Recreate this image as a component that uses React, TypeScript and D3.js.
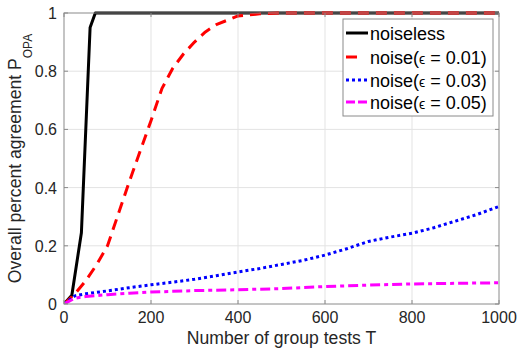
import { useEffect, useRef } from "react";
import * as d3 from "d3";

const xTicks = [0, 200, 400, 600, 800, 1000];
const yTicks = [0, 0.2, 0.4, 0.6, 0.8, 1];

const noiselessT = [0, 18, 40, 60, 72, 1000];
const noiselessP = [0, 0.03, 0.245, 0.95, 1, 1];

const noise01T = [0, 25, 50, 75, 100, 125, 150, 175, 200, 225, 250, 275, 300, 325, 350, 375, 400, 450, 500, 1000];
const noise01P = [0, 0.035, 0.08, 0.135, 0.2, 0.31, 0.42, 0.525, 0.63, 0.74, 0.81, 0.86, 0.9, 0.935, 0.96, 0.975, 0.99, 0.997, 1, 1];

const noise03T = [0, 25, 50, 100, 150, 200, 250, 300, 350, 400, 450, 500, 550, 600, 650, 700, 750, 800, 850, 900, 950, 1000];
const noise03P = [0, 0.028, 0.035, 0.045, 0.056, 0.066, 0.075, 0.085, 0.097, 0.11, 0.122, 0.136, 0.15, 0.168, 0.19, 0.215, 0.23, 0.243, 0.262, 0.285, 0.308, 0.335];

const noise05T = [0, 25, 50, 100, 150, 200, 300, 400, 500, 600, 700, 800, 900, 1000];
const noise05P = [0, 0.02, 0.026, 0.032, 0.037, 0.041, 0.046, 0.049, 0.053, 0.06, 0.065, 0.069, 0.071, 0.073];

const seriesNames = ["noiseless", "0.01", "0.03", "0.05"];
const seriesColors = ["#000000", "#ff0000", "#0000ff", "#ff00ff"];
const seriesDash = ["", "11,7", "3,3", "10,4,4,4"];

const FONT = "'Liberation Sans', Arial, Helvetica, sans-serif";

export default function App() {
  const ref = useRef<SVGSVGElement>(null);

  useEffect(() => {
    const svg = d3.select(ref.current);
    svg.selectAll("*").remove();
    const width = 519;
    const height = 348;
    svg.attr("width", width).attr("height", height);

    const m = { left: 64, right: 20, top: 13, bottom: 44 };
    const x = d3.scaleLinear().domain([0, 1000]).range([m.left, width - m.right]);
    const y = d3.scaleLinear().domain([0, 1]).range([height - m.bottom, m.top]);

    svg.append("rect").attr("width", width).attr("height", height).attr("fill", "#fff");

    // grid
    const grid = svg.append("g").attr("stroke", "#e3e3e3").attr("stroke-width", 1);
    xTicks.slice(1, -1).forEach((t) => {
      grid.append("line").attr("x1", x(t)).attr("x2", x(t)).attr("y1", y(0)).attr("y2", y(1));
    });
    yTicks.slice(1, -1).forEach((t) => {
      grid.append("line").attr("x1", x(0)).attr("x2", x(1000)).attr("y1", y(t)).attr("y2", y(t));
    });

    svg.append("defs").append("clipPath").attr("id", "plotclip")
      .append("rect").attr("x", x(0)).attr("y", y(1) - 3).attr("width", x(1000) - x(0)).attr("height", y(0) - y(1) + 3);

    const series = [
      { t: noiselessT, p: noiselessP },
      { t: noise01T, p: noise01P },
      { t: noise03T, p: noise03P },
      { t: noise05T, p: noise05P },
    ];

    const line = d3.line<[number, number]>().x((d) => x(d[0])).y((d) => y(d[1]));
    const lines = svg.append("g").attr("clip-path", "url(#plotclip)");
    series.forEach((s, i) => {
      const pts: [number, number][] = s.t.map((t, j) => [t, s.p[j]]);
      lines.append("path")
        .attr("d", line(pts))
        .attr("fill", "none")
        .attr("stroke", seriesColors[i])
        .attr("stroke-width", 3)
        .attr("stroke-dasharray", seriesDash[i] || null)
        .attr("stroke-linejoin", "round");
    });

    // axes box
    const axisColor = "#8a8a8a";
    svg.append("rect")
      .attr("x", x(0)).attr("y", y(1))
      .attr("width", x(1000) - x(0)).attr("height", y(0) - y(1))
      .attr("fill", "none").attr("stroke", axisColor).attr("stroke-width", 1);

    const ticks = svg.append("g").attr("stroke", axisColor);
    xTicks.forEach((t) => {
      ticks.append("line").attr("x1", x(t)).attr("x2", x(t)).attr("y1", y(0)).attr("y2", y(0) - 4);
      ticks.append("line").attr("x1", x(t)).attr("x2", x(t)).attr("y1", y(1)).attr("y2", y(1) + 4);
    });
    yTicks.forEach((t) => {
      ticks.append("line").attr("x1", x(0)).attr("x2", x(0) + 4).attr("y1", y(t)).attr("y2", y(t));
      ticks.append("line").attr("x1", x(1000)).attr("x2", x(1000) - 4).attr("y1", y(t)).attr("y2", y(t));
    });

    const labels = svg.append("g").attr("font-family", FONT).attr("fill", "#262626");
    xTicks.forEach((t) => {
      labels.append("text").attr("x", x(t)).attr("y", y(0) + 19)
        .attr("text-anchor", "middle").attr("font-size", 16).text(String(t));
    });
    yTicks.forEach((t) => {
      labels.append("text").attr("x", x(0) - 7).attr("y", y(t) + 6)
        .attr("text-anchor", "end").attr("font-size", 16).text(String(t));
    });

    labels.append("text")
      .attr("x", (x(0) + x(1000)) / 2).attr("y", height - 4)
      .attr("text-anchor", "middle").attr("font-size", 17.6)
      .text("Number of group tests T");

    const yl = labels.append("text")
      .attr("transform", `translate(21,${(y(0) + y(1)) / 2}) rotate(-90)`)
      .attr("text-anchor", "middle").attr("font-size", 17.6);
    yl.append("tspan").text("Overall percent agreement P");
    yl.append("tspan").attr("font-size", 12).attr("dy", 11).text("OPA");

    // legend
    const lg = svg.append("g").attr("font-family", FONT);
    lg.append("rect").attr("x", 343).attr("y", 19).attr("width", 150).attr("height", 97)
      .attr("fill", "#fff").attr("stroke", "#8a8a8a").attr("stroke-width", 1);
    const rowY = [33, 57, 80, 102];
    seriesNames.forEach((name, i) => {
      const ry = rowY[i];
      const x1 = 346;
      const x2 = i === 1 ? 357 : 368;
      lg.append("line").attr("x1", x1).attr("x2", x2).attr("y1", ry).attr("y2", ry)
        .attr("stroke", seriesColors[i]).attr("stroke-width", 3)
        .attr("stroke-dasharray", i === 3 ? "9,3" : i === 2 ? seriesDash[i] : null);
      const tx = lg.append("text").attr("x", 370).attr("y", ry + 6.5).attr("font-size", 18).attr("fill", "#000");
      if (i === 0) {
        tx.text(name);
      } else {
        tx.append("tspan").text("noise(");
        tx.append("tspan").attr("font-size", 14).text("\u03f5");
        tx.append("tspan").text(` = ${name})`);
      }
    });
  }, []);

  return (
    <svg ref={ref} style={{ position: "absolute", left: 0, top: 0 }}></svg>
  );
}
